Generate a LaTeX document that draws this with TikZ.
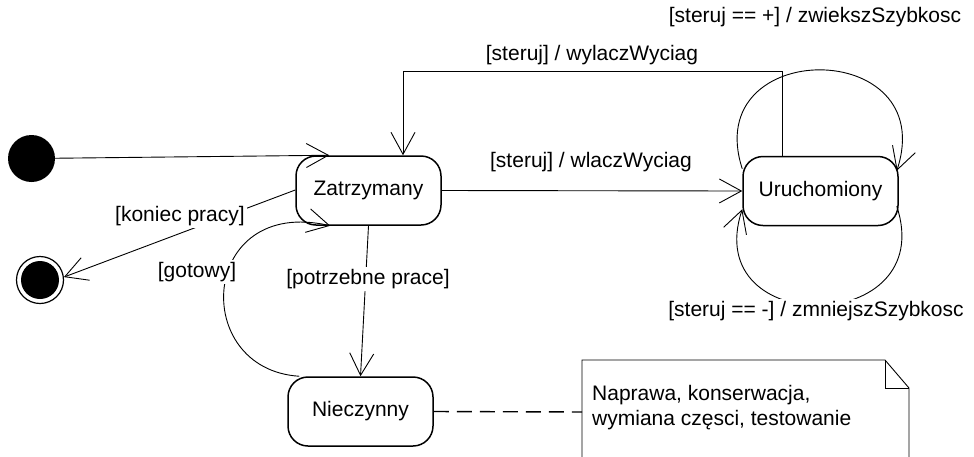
\documentclass[tikz,border=0pt]{standalone}
\usepackage{fontspec}
\setmainfont{Liberation Sans}
\usetikzlibrary{arrows.meta,calc}

\tikzset{
  state/.style={draw, line width=1.5pt, rectangle, rounded corners=20pt,
    minimum height=69pt, inner sep=0pt},
  trans/.style={line width=0.9pt, -{Straight Barb[length=22pt,width=24pt,line width=0.9pt]}},
  lbl/.style={fill=white, inner sep=2pt},
  every node/.style={font=\fontsize{21pt}{25pt}\selectfont},
}

\begin{document}
\begin{tikzpicture}[x=1pt, y=-1pt]
\useasboundingbox (0,0) rectangle (974,456);
\clip (0,0) rectangle (974,456);

% states
\node[state, minimum width=145pt] (Z) at (368.5,190.5) {Zatrzymany};
\node[state, minimum width=155pt] (U) at (820.5,191) {Uruchomiony};
\node[state, minimum width=145pt] (N) at (360.5,411.5) {Nieczynny};

% pseudo-states
\node[circle, fill=black, minimum size=47pt, inner sep=0pt] (I) at (31.5,158.5) {};
\node[circle, draw, line width=1.2pt, minimum size=47pt, inner sep=0pt,
  path picture={\fill (path picture bounding box.center) circle (19pt);}] (F) at (40,280) {};

% comment note
\draw[line width=0.9pt] (582,470) -- (582,360) -- (885,360) -- (909,388) -- (909,470);
\draw[line width=0.9pt] (885,360) -- (885,388) -- (909,388);
\coordinate (noteL) at (582,412);
\node[anchor=north west, align=left, inner sep=0pt] (notetext) at (592,385.5)
  {Naprawa, konserwacja,\\wymiana częsci, testowanie};

% transitions
\draw[trans] (I) -- ([xshift=34pt]Z.north west);
\draw[trans] (Z.east) -- (U.west);
\draw[trans] ([xshift=-38.5pt]U.north) -- ++(0,-84) -| ([xshift=34.5pt]Z.north);
\draw[trans] ([yshift=-13pt]U.north west)
  .. controls +(-43,-132) and +(44,-134) .. ([xshift=-2pt,yshift=-15pt]U.north east);
\draw[trans] ([xshift=-2pt,yshift=20pt]U.south east)
  .. controls +(43,130) and +(-43,130) .. ([yshift=17pt]U.south west);
\draw[trans] (Z.south) -- (N.north);
\draw[trans] ([xshift=12pt]N.north west)
  .. controls +(-110,-7) and +(-131,-30) .. ([xshift=35pt]Z.south west);
\draw[trans] ([yshift=0.5pt]Z.west) -- (F.7);
\draw[line width=1.4pt, dash pattern=on 15pt off 8pt] (N.east) -- (noteL);

% transition labels
\node[lbl] (l1) at (592,55) {[steruj] / wylaczWyciag};
\node[lbl] (l2) at (591,162) {[steruj] / wlaczWyciag};
\node[lbl] (l3) at (815,17) {[steruj == +] / zwiekszSzybkosc};
\node[lbl] (l4) at (816,311) {[steruj == -] / zmniejszSzybkosc};
\node[lbl] (l5) at (180,216) {[koniec pracy]};
\node[lbl] (l6) at (197,272) {[gotowy]};
\node[lbl] (l7) at (368,279) {[potrzebne prace]};
\end{tikzpicture}
\end{document}
